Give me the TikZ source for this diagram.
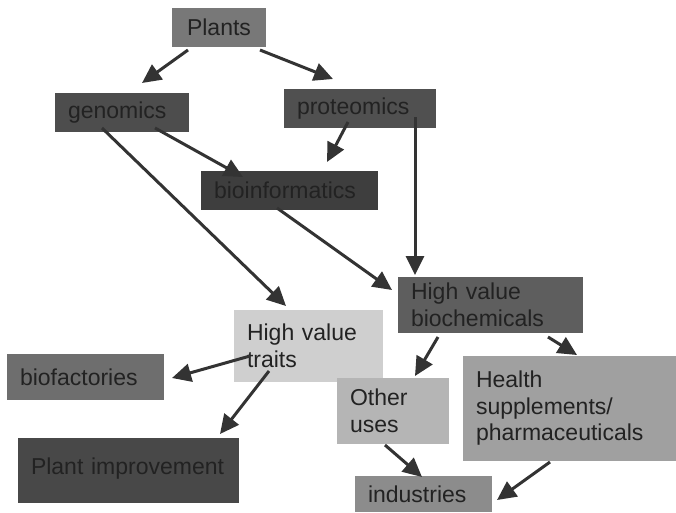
\documentclass[tikz,border=0pt]{standalone}
\usepackage{fontspec}
\setmainfont{Liberation Sans}
\usetikzlibrary{arrows.meta}
\definecolor{txt}{HTML}{222222}
\definecolor{arr}{HTML}{333333}
\definecolor{cPlants}{HTML}{787878}
\definecolor{cGen}{HTML}{4D4D4D}
\definecolor{cProt}{HTML}{505050}
\definecolor{cBioinf}{HTML}{3E3E3E}
\definecolor{cBiochem}{HTML}{5E5E5E}
\definecolor{cTraits}{HTML}{CFCFCF}
\definecolor{cBiofac}{HTML}{6E6E6E}
\definecolor{cPlantImp}{HTML}{484848}
\definecolor{cOther}{HTML}{B5B5B5}
\definecolor{cHealth}{HTML}{A0A0A0}
\definecolor{cInd}{HTML}{8C8C8C}
\tikzset{
  box/.style={rectangle, inner xsep=13pt, inner ysep=0pt, outer sep=0pt,
    text=txt, align=left, font=\fontsize{23}{26.5}\selectfont},
  flow/.style={draw=arr, line width=3pt, -{Triangle[length=19pt,width=18pt]}}
}
\begin{document}
\begin{tikzpicture}[x=1pt,y=-1pt]
\useasboundingbox[fill=white] (0,0) rectangle (676,512);

\node[box, fill=cPlants, align=center, inner xsep=0pt, minimum width=94pt, minimum height=39pt] (plants) at (219,27.5) {Plants};
\node[box, fill=cGen, text width=108pt, minimum height=39pt] (genomics) at (122,112.5) {genomics};
\node[box, fill=cProt, text width=126pt, minimum height=39pt] (proteomics) at (360,108.5) {proteomics};
\node[box, fill=cBioinf, text width=151pt, minimum height=39pt] (bioinf) at (289.5,190.5) {bioinformatics};
\node[box, fill=cBiochem, text width=159pt, minimum height=56pt] (biochem) at (490.5,305) {High value\\biochemicals};
\node[box, fill=cTraits, text width=123pt, minimum height=72pt] (traits) at (308.5,346) {High value\\traits};
\node[box, fill=cBiofac, text width=131pt, minimum height=46pt] (biofac) at (85.5,377) {biofactories};
\node[box, fill=cPlantImp, text width=195pt, minimum height=65pt] (plantimp) at (128.5,470.5) {\raisebox{8pt}{Plant improvement}};
\node[box, fill=cOther, text width=86pt, minimum height=66pt] (other) at (393,411) {Other\\uses};
\node[box, fill=cHealth, text width=187pt, minimum height=105pt] (health) at (569.5,408.5) {Health\\supplements/\\pharmaceuticals};
\node[box, fill=cInd, text width=111pt, minimum height=36pt] (industries) at (423.5,494) {industries};

\draw[flow] ([shift={(16,3)}]plants.south west) -- ([shift={(20,-10)}]genomics.north);
\draw[flow] ([shift={(-6,3)}]plants.south east) -- ([shift={(-27,-10)}]proteomics.north);
\draw[flow] ([shift={(-12,-6)}]proteomics.south) -- ([shift={(37.5,-9)}]bioinf.north);
\draw[flow] ([shift={(33,-4)}]genomics.south) -- ([shift={(42,6)}]bioinf.north west);
\draw[flow] ([shift={(-20,-4)}]genomics.south) -- ([shift={(52,-4)}]traits.north west);
\draw[flow] ([shift={(-12.5,-2)}]bioinf.south) -- ([shift={(-6,13)}]biochem.north west);
\draw[flow] ([shift={(-21,-11)}]proteomics.south east) -- ([shift={(17,-2)}]biochem.north west);
\draw[flow] ([shift={(16,10)}]traits.west) -- ([shift={(8,1)}]biofac.east);
\draw[flow] ([shift={(35,-11)}]traits.south west) -- ([shift={(-19,-4)}]plantimp.north east);
\draw[flow] ([shift={(40,4)}]biochem.south west) -- ([shift={(-34,-2)}]other.north east);
\draw[flow] ([shift={(-35,4)}]biochem.south east) -- ([shift={(7.5,-1)}]health.north);
\draw[flow] ([shift={(-8,1)}]other.south) -- ([shift={(67,1)}]industries.north west);
\draw[flow] ([shift={(-19.5,1)}]health.south) -- ([shift={(5,6)}]industries.east);
\end{tikzpicture}
\end{document}
